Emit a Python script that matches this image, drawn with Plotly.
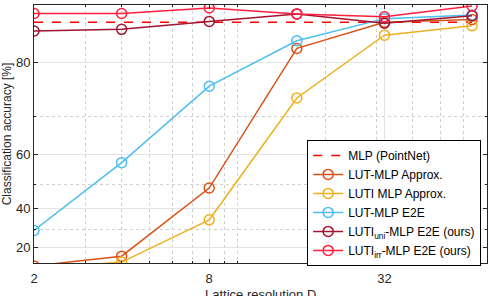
import math
import plotly.graph_objects as go

# Lattice resolution D
res = [2, 4, 8, 16, 32, 64]

# Classification accuracy [%]
mlp_pointnet = [85.2, 85.2, 85.2, 85.2, 85.2, 85.2]
lut_mlp_approx = [8.0, 14.5, 48.7, 82.0, 85.2, 85.5]
luti_mlp_approx = [6.0, 10.6, 34.9, 73.9, 83.7, 84.8]
lut_mlp_e2e = [29.5, 57.6, 76.1, 83.0, 85.6, 86.0]
luti_uni_e2e = [84.2, 84.4, 85.3, 86.1, 85.1, 85.9]
luti_irr_e2e = [86.15, 86.15, 86.7, 86.1, 85.8, 86.9]

ytick_acc = [20, 40, 60, 80]
yminor_acc = [30, 50, 70]
xticks = [2, 8, 32]
xminor = [3, 4, 5, 6, 7, 9, 10, 20, 30, 40, 50, 60]

def err(vals):
    return [100 - v for v in vals]

fig = go.Figure()
fig.add_trace(go.Scatter(x=res, y=err(mlp_pointnet), mode="lines",
                         line=dict(color="#FF0000", width=1.5, dash="dash"),
                         name="MLP (PointNet)"))
series = [
    ("LUT-MLP Approx.", lut_mlp_approx, "#D95319"),
    ("LUTI MLP Approx.", luti_mlp_approx, "#EDB120"),
    ("LUT-MLP E2E", lut_mlp_e2e, "#4DBEEE"),
    ("LUTI<sub>uni</sub>-MLP E2E (ours)", luti_uni_e2e, "#A2142F"),
    ("LUTI<sub>irr</sub>-MLP E2E (ours)", luti_irr_e2e, "#FF1F3F"),
]
for name, vals, col in series:
    fig.add_trace(go.Scatter(x=res, y=err(vals), mode="lines+markers", name=name,
                             line=dict(color=col, width=1.5),
                             marker=dict(symbol="circle-open", size=10, color=col,
                                         line=dict(width=1.5, color=col))))

font_col = "#262626"
fig.update_layout(
    width=490, height=296,
    margin=dict(l=34, r=3, t=5, b=33, autoexpand=False),
    paper_bgcolor="white", plot_bgcolor="white",
    font=dict(family="Liberation Sans, Arial, sans-serif", size=13, color=font_col),
    showlegend=True,
    legend=dict(x=0.603, y=0.477, xanchor="left", yanchor="top",
                bgcolor="white", bordercolor="#000000", borderwidth=1,
                font=dict(size=12, color="#000000"), tracegroupgap=0,
                itemwidth=30),
    annotations=[dict(text="Lattice resolution D", xref="paper", yref="paper",
                      x=0.5, y=0, xanchor="center", yanchor="top", yshift=-22,
                      showarrow=False, font=dict(size=13, color=font_col))],
)
fig.update_xaxes(
    type="log", range=[0.30103, 1.8575],
    tickvals=xticks, ticktext=[str(t) for t in xticks],
    ticks="inside", ticklen=4, tickcolor="#262626", ticklabelstandoff=3,
    showline=True, linecolor="#262626", linewidth=1, mirror="allticks",
    showgrid=True, gridcolor="#E3E3E3", gridwidth=1,
    minor=dict(tickvals=xminor, ticks="inside", ticklen=2, tickcolor="#262626",
               showgrid=True, gridcolor="#D0D0D0", griddash="dot", gridwidth=1),
    zeroline=False, automargin=False,
)
fig.update_yaxes(
    type="log", range=[math.log10(90), math.log10(13)],
    tickvals=[100 - a for a in ytick_acc], ticktext=[str(a) for a in ytick_acc],
    ticks="inside", ticklen=4, tickcolor="#262626",
    showline=True, linecolor="#262626", linewidth=1, mirror="allticks",
    showgrid=True, gridcolor="#E3E3E3", gridwidth=1,
    minor=dict(tickvals=[100 - a for a in yminor_acc], ticks="inside", ticklen=2,
               tickcolor="#262626", showgrid=True, gridcolor="#D0D0D0",
               griddash="dot", gridwidth=1),
    title=dict(text="Classification accuracy [%]", standoff=2, font=dict(size=12)),
    zeroline=False, automargin=False,
)
fig.write_html("out.html", config={"displayModeBar": False},
               post_script="document.body.style.margin='0';document.body.style.overflow='hidden';")
